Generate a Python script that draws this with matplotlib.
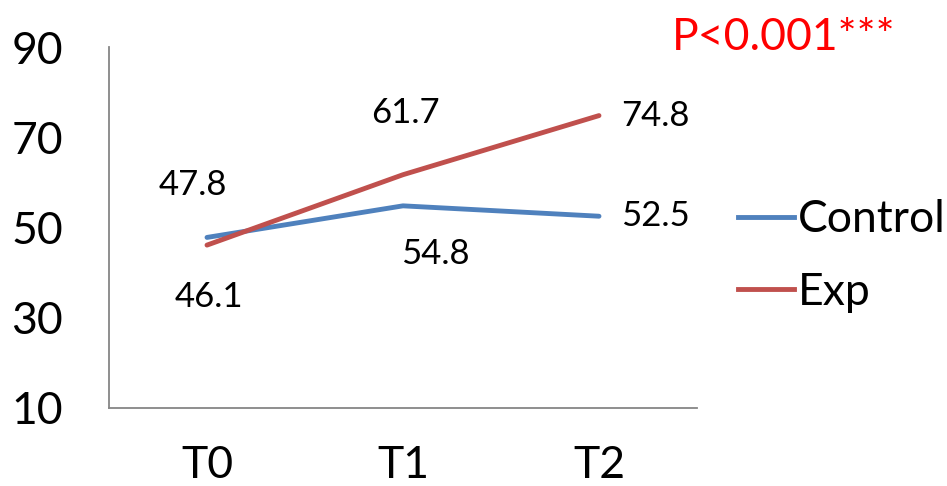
import matplotlib
matplotlib.use("Agg")
import matplotlib.pyplot as plt
from matplotlib.lines import Line2D

categories = ["T0", "T1", "T2"]
control = [47.8, 54.8, 52.5]
exp = [46.1, 61.7, 74.8]
yticks = [10, 30, 50, 70, 90]
series_names = ["Control", "Exp"]
p_text = "P<0.001***"

plt.rcParams['font.family'] = ['Lato', 'DejaVu Sans']

W, H = 947, 486
fig = plt.figure(figsize=(W / 100, H / 100), dpi=100)
ax = fig.add_axes([109 / W, 1 - 408 / H, (697 - 109) / W, (408 - 47) / H])

blue = "#4F81BD"
red = "#C0504D"
lw = 3.5
x = list(range(len(categories)))
ax.plot(x, control, color=blue, lw=lw, solid_capstyle='round')
ax.plot(x, exp, color=red, lw=lw, solid_capstyle='round')

big = 32
ax.set_xlim(-0.5, 2.5)
ax.set_ylim(10, 90)
ax.set_yticks(yticks)
ax.set_xticks(x)
ax.set_xticklabels(categories)
ax.tick_params(length=0, labelsize=big)
ax.tick_params(axis='y', pad=33)
ax.tick_params(axis='x', pad=27)
for s in ['top', 'right']:
    ax.spines[s].set_visible(False)
for s in ['left', 'bottom']:
    ax.spines[s].set_color('#868686')
    ax.spines[s].set_linewidth(1.3)

fs = 25
PX = 0.72  # px -> pt at 100 dpi
# data label offsets in pixels
offsets_c = [(-14, 52, 'center'), (32, -48, 'center'), (22, 0, 'left')]
offsets_e = [(2, -52, 'center'), (2, 62, 'center'), (22, 0, 'left')]
for vals, offs in ((control, offsets_c), (exp, offsets_e)):
    for i, v in enumerate(vals):
        dx, dy, ha = offs[i]
        ax.annotate(f"{v}", (x[i], v), xytext=(dx * PX, dy * PX), textcoords='offset points',
                    ha=ha, va='center', fontsize=fs)

handles = [Line2D([], [], color=blue, lw=lw), Line2D([], [], color=red, lw=lw)]
leg = fig.legend(handles, series_names, loc='center left', bbox_to_anchor=(738 / W, 1 - 256 / H),
                 frameon=False, fontsize=big, handlelength=1.25, handletextpad=0.1,
                 labelspacing=0.7, borderpad=0, borderaxespad=0)

fig.text(672 / W, 1 - 38 / H, p_text, color='red', fontsize=big, ha='left', va='center')

fig.savefig("out.png", dpi=100)
